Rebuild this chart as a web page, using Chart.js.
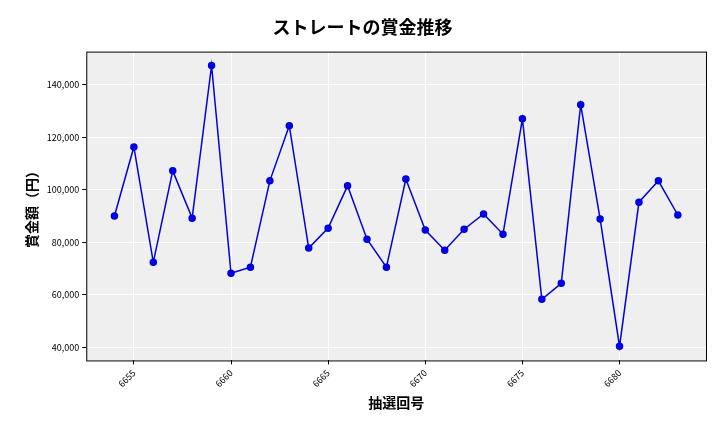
<!DOCTYPE html>
<html><head><meta charset="utf-8">
<script src="https://cdn.jsdelivr.net/npm/chart.js@4"></script>
<style>html,body{margin:0;padding:0;background:#fff}#w{width:720px;height:432px}</style>
</head><body><div id="w"><canvas id="c"></canvas></div>
<script>
const draws=[6654,6655,6656,6657,6658,6659,6660,6661,6662,6663,6664,6665,6666,6667,6668,6669,6670,6671,6672,6673,6674,6675,6676,6677,6678,6679,6680,6681,6682,6683];
const prizes=[90000,116300,72400,107200,89200,147300,68200,70500,103400,124400,77800,85400,101500,81200,70500,104100,84700,77000,85000,90800,83100,127000,58300,64400,132400,88900,40400,95300,103400,90400];
const xTicks=[6655,6660,6665,6670,6675,6680];
const yTicks=[40000,60000,80000,100000,120000,140000];
const F="'Noto Sans CJK JP', sans-serif";
const bg={id:'bg',beforeDraw(ch){const a=ch.chartArea,x=ch.ctx;x.save();x.fillStyle='#efefef';x.fillRect(a.left,a.top,a.right-a.left,a.bottom-a.top);x.restore();},
afterDraw(ch){const a=ch.chartArea,x=ch.ctx;x.save();x.strokeStyle='#000';x.lineWidth=1;x.strokeRect(a.left+.5,a.top+.5,a.right-a.left,a.bottom-a.top);x.restore();}};
new Chart(document.getElementById('c'),{type:'line',
data:{datasets:[{data:draws.map((d,i)=>({x:d,y:prizes[i]})),borderColor:'#0000dd',backgroundColor:'#0000ee',borderWidth:1.5,pointRadius:3,pointHoverRadius:3,tension:0}]},
plugins:[bg],
options:{responsive:true,maintainAspectRatio:false,animation:false,
layout:{padding:{left:19,right:14,top:10,bottom:17}},
plugins:{legend:{display:false},tooltip:{enabled:false},
title:{display:true,text:'ストレートの賞金推移',font:{family:F,size:18,weight:'bold'},color:'#000',padding:{top:6,bottom:14}}},
scales:{
x:{type:'linear',min:6652.55,max:6684.45,
afterBuildTicks:s=>{s.ticks=xTicks.map(v=>({value:v}));},
ticks:{maxRotation:45,minRotation:45,font:{family:F,size:9},color:'#000',callback:v=>String(v)},
grid:{color:'#fff',lineWidth:1,drawTicks:true,tickColor:'#000',tickLength:4},border:{display:false},
title:{display:true,text:'抽選回号',font:{family:F,size:14,weight:'bold'},color:'#000',padding:{top:2}}},
y:{min:35040,max:152600,
afterBuildTicks:s=>{s.ticks=yTicks.map(v=>({value:v}));},
ticks:{font:{family:F,size:9},color:'#000',callback:v=>v.toLocaleString('en-US')},
grid:{color:'#fff',lineWidth:1,tickColor:'#000',tickLength:4},border:{display:false},
title:{display:true,text:'賞金額（円）',font:{family:F,size:14,weight:'bold'},color:'#000'}}}}});
</script></body></html>
